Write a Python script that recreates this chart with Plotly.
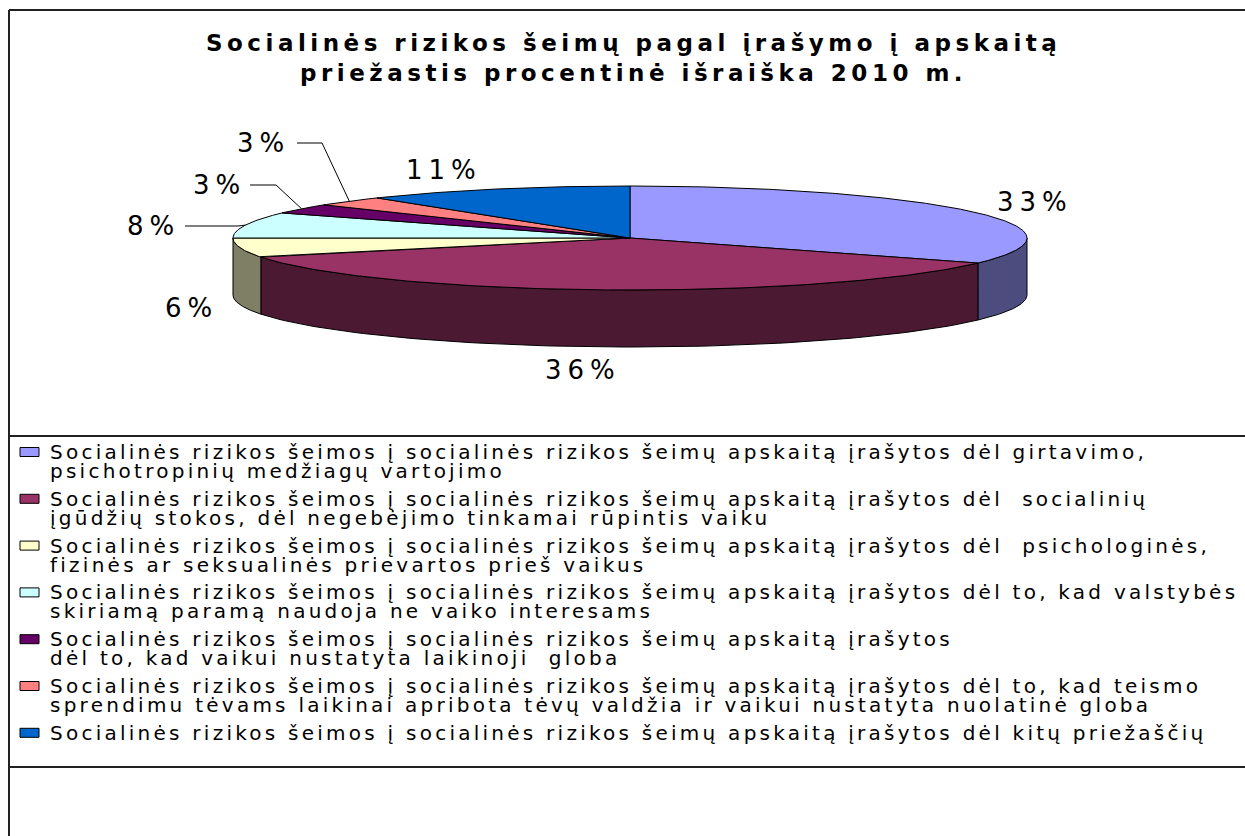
import numpy as np
import plotly.graph_objects as go

# ---------------- data ----------------
categories = [
    "Socialinės rizikos šeimos į socialinės rizikos šeimų apskaitą įrašytos dėl girtavimo,\npsichotropinių medžiagų vartojimo",
    "Socialinės rizikos šeimos į socialinės rizikos šeimų apskaitą įrašytos dėl  socialinių\nįgūdžių stokos, dėl negebėjimo tinkamai rūpintis vaiku",
    "Socialinės rizikos šeimos į socialinės rizikos šeimų apskaitą įrašytos dėl  psichologinės,\nfizinės ar seksualinės prievartos prieš vaikus",
    "Socialinės rizikos šeimos į socialinės rizikos šeimų apskaitą įrašytos dėl to, kad valstybės\nskiriamą paramą naudoja ne vaiko interesams",
    "Socialinės rizikos šeimos į socialinės rizikos šeimų apskaitą įrašytos\ndėl to, kad vaikui nustatyta laikinoji  globa",
    "Socialinės rizikos šeimos į socialinės rizikos šeimų apskaitą įrašytos dėl to, kad teismo\nsprendimu tėvams laikinai apribota tėvų valdžia ir vaikui nustatyta nuolatinė globa",
    "Socialinės rizikos šeimos į socialinės rizikos šeimų apskaitą įrašytos dėl kitų priežaščių",
]
values = [33, 36, 6, 8, 3, 3, 11]
value_labels = ["33%", "36%", "6%", "8%", "3%", "3%", "11%"]
colors = ["#9999FF", "#993366", "#FFFFCC", "#CCFFFF", "#660066", "#FF8080", "#0066CC"]
title_lines = ["Socialinės rizikos šeimų pagal įrašymo į apskaitą",
               "priežastis procentinė išraiška 2010 m."]

# ---------------- layout constants ----------------
W, H = 1245, 836
cx, cy, a, b, depth = 630, 238, 397, 52, 57
label_pos = [(1032, 202), (580, 370), (188, 308), (150, 226), (216, 185), (260, 143), (441, 170)]
leader_elbow = {3: (185, 238), 4: (250, 276), 5: (297, 322)}  # label index: (line start x, elbow x)
LBL_LS = 6


def darken(h, f=0.5):
    h = h.lstrip("#")
    r, g, bb = (int(h[i:i + 2], 16) for i in (0, 2, 4))
    return "#%02X%02X%02X" % (int(r * f), int(g * f), int(bb * f))


def ell(t_deg, dy=0.0):
    t = np.radians(t_deg)
    return cx + a * np.cos(t), cy - b * np.sin(t) + dy


def spaced(txt, ls):
    return f"<span style='letter-spacing:{ls}px'>{txt}</span>"


vals = np.array(values, dtype=float)
bounds = 90 - 360 * np.concatenate([[0], np.cumsum(vals) / vals.sum()])

fig = go.Figure()

# side walls (front half only)
for i in range(len(vals)):
    t1, t2 = bounds[i], bounds[i + 1]
    lo, hi = max(t2, -180), min(t1, 0)
    if hi <= lo:
        continue
    ts = np.linspace(hi, lo, 80)
    xt, yt = ell(ts)
    xb, yb = ell(ts[::-1], depth)
    xs = np.concatenate([xt, xb, xt[:1]])
    ys = np.concatenate([yt, yb, yt[:1]])
    fig.add_trace(go.Scatter(x=xs, y=ys, mode="lines", fill="toself",
                             fillcolor=darken(colors[i]), line=dict(color="black", width=1),
                             hoverinfo="skip", showlegend=False))

# top faces
for i in range(len(vals)):
    t1, t2 = bounds[i], bounds[i + 1]
    ts = np.linspace(t1, t2, max(int(abs(t1 - t2) * 2), 8))
    xt, yt = ell(ts)
    xs = np.concatenate([[cx], xt, [cx]])
    ys = np.concatenate([[cy], yt, [cy]])
    fig.add_trace(go.Scatter(x=xs, y=ys, mode="lines", fill="toself",
                             fillcolor=colors[i], line=dict(color="black", width=1),
                             hoverinfo="skip", showlegend=False))

shapes = []
annotations = []

# percentage labels
for i, txt in enumerate(value_labels):
    x, y = label_pos[i]
    annotations.append(dict(x=x + LBL_LS / 2, y=y, text=spaced(txt, LBL_LS), showarrow=False,
                            xanchor="center", yanchor="middle",
                            font=dict(family="DejaVu Sans", size=26, color="black")))

# leader lines
for i, (xs0, xel) in leader_elbow.items():
    mid = (bounds[i] + bounds[i + 1]) / 2
    px, py = ell(mid)
    ly = label_pos[i][1]
    shapes.append(dict(type="path", xref="x", yref="y",
                       path=f"M {xs0},{ly} L {xel},{ly} L {px:.1f},{py:.1f}",
                       line=dict(color="black", width=1)))

# title
for j, tl in enumerate(title_lines):
    annotations.append(dict(x=633, y=43 + j * 30, text=spaced(tl, 4.5), showarrow=False,
                            xanchor="center", yanchor="middle",
                            font=dict(family="DejaVu Sans", size=23, color="black", weight="bold")))

# custom legend
leg_y0, leg_step, line_step = 452, 46.8, 19
for i, cat in enumerate(categories):
    yc = leg_y0 + i * leg_step
    shapes.append(dict(type="rect", xref="x", yref="y", x0=20, x1=39, y0=yc - 4.5, y1=yc + 4.5,
                       fillcolor=colors[i], line=dict(color="black", width=1)))
    for j, line in enumerate(cat.split("\n")):
        annotations.append(dict(x=48, y=yc + j * line_step, text=spaced(line, 3.25), showarrow=False,
                                xanchor="left", yanchor="middle",
                                font=dict(family="DejaVu Sans", size=20, color="black")))

# frame lines
frame = dict(color="#222222", width=2)
shapes += [
    dict(type="line", xref="x", yref="y", x0=9, x1=W + 20, y0=10, y1=10, line=frame),
    dict(type="line", xref="x", yref="y", x0=9, x1=9, y0=10, y1=H + 20, line=frame),
    dict(type="line", xref="x", yref="y", x0=9, x1=W + 20, y0=436, y1=436, line=frame),
    dict(type="line", xref="x", yref="y", x0=9, x1=W + 20, y0=767, y1=767, line=frame),
]

fig.update_layout(
    width=W, height=H, margin=dict(l=0, r=0, t=0, b=0),
    paper_bgcolor="white", plot_bgcolor="white",
    xaxis=dict(range=[0, W], visible=False, fixedrange=True),
    yaxis=dict(range=[H, 0], visible=False, fixedrange=True),
    shapes=shapes, annotations=annotations, showlegend=False,
)

fig.write_html("out.html", config={"displayModeBar": False},
               post_script="document.body.style.margin='0';document.body.style.overflow='hidden';")
